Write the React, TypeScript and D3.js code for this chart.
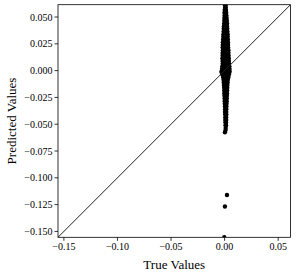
import { useEffect } from "react";
import * as d3 from "d3";

// scatter points: [true value, predicted value]
const points: [number, number][] = [
  [0.0004, 0.064], [0.0011, 0.064],
  [0.0002, 0.0615], [0.0012, 0.0615],
  [0.0005, 0.059], [0.001, 0.059],
  [0.0001, 0.0565], [0.0013, 0.0565],
  [-0.0001, 0.054], [0.0008, 0.054], [0.0015, 0.054],
  [0.0, 0.0515], [0.0017, 0.0515],
  [-0.0002, 0.049], [0.0009, 0.049], [0.0019, 0.049],
  [-0.0003, 0.0465], [0.0011, 0.0465], [0.0021, 0.0465],
  [-0.0004, 0.044], [0.0008, 0.044], [0.0023, 0.044],
  [-0.0006, 0.0415], [0.001, 0.0415], [0.0022, 0.0415],
  [-0.0008, 0.039], [0.0007, 0.039], [0.0025, 0.039],
  [-0.0009, 0.0365], [0.001, 0.0365], [0.0026, 0.0365],
  [-0.0011, 0.034], [0.0004, 0.034], [0.0018, 0.034], [0.0028, 0.034],
  [-0.0012, 0.0315], [0.0006, 0.0315], [0.002, 0.0315], [0.0029, 0.0315],
  [-0.0014, 0.029], [0.0003, 0.029], [0.0019, 0.029], [0.003, 0.029],
  [-0.0016, 0.0265], [0.0002, 0.0265], [0.0017, 0.0265], [0.0031, 0.0265],
  [-0.0017, 0.024], [0.0005, 0.024], [0.0021, 0.024], [0.0032, 0.024],
  [-0.0018, 0.0215], [0.0001, 0.0215], [0.0018, 0.0215], [0.0033, 0.0215],
  [-0.0016, 0.019], [0.0004, 0.019], [0.0022, 0.019], [0.0035, 0.019],
  [-0.0019, 0.0165], [0.0, 0.0165], [0.0019, 0.0165], [0.0036, 0.0165],
  [-0.0018, 0.014], [0.0003, 0.014], [0.0021, 0.014], [0.0037, 0.014],
  [-0.002, 0.0115], [0.0001, 0.0115], [0.002, 0.0115], [0.0038, 0.0115],
  [-0.0019, 0.009], [0.0004, 0.009], [0.0023, 0.009], [0.004, 0.009],
  [-0.0018, 0.0065], [0.0, 0.0065], [0.0019, 0.0065], [0.0041, 0.0065],
  [-0.0021, 0.004], [0.0002, 0.004], [0.0022, 0.004], [0.0044, 0.004],
  [-0.0024, 0.0015], [-0.0003, 0.0015], [0.0017, 0.0015], [0.0046, 0.0015],
  [-0.003, -0.001], [-0.001, -0.001], [0.0012, -0.001], [0.0033, -0.001], [0.0047, -0.001],
  [-0.0022, -0.0035], [0.0, -0.0035], [0.0021, -0.0035], [0.004, -0.0035],
  [-0.0014, -0.006], [0.0006, -0.006], [0.0026, -0.006], [0.0036, -0.006],
  [-0.001, -0.0085], [0.0008, -0.0085], [0.003, -0.0085],
  [-0.0008, -0.011], [0.001, -0.011], [0.0028, -0.011],
  [-0.0006, -0.0135], [0.0009, -0.0135], [0.0026, -0.0135],
  [-0.0004, -0.016], [0.0011, -0.016], [0.0025, -0.016],
  [-0.0003, -0.0185], [0.001, -0.0185], [0.0024, -0.0185],
  [-0.0002, -0.021], [0.0011, -0.021], [0.0022, -0.021],
  [-0.0001, -0.0235], [0.0009, -0.0235], [0.0021, -0.0235],
  [0.0, -0.026], [0.0011, -0.026], [0.002, -0.026],
  [0.0001, -0.0285], [0.0019, -0.0285],
  [0.0002, -0.031], [0.001, -0.031], [0.0018, -0.031],
  [0.0003, -0.0335], [0.0017, -0.0335],
  [0.0005, -0.036], [0.0016, -0.036],
  [0.0004, -0.0385], [0.0015, -0.0385],
  [0.0006, -0.041], [0.0016, -0.041],
  [0.0007, -0.0435], [0.0014, -0.0435],
  [0.0006, -0.046], [0.0015, -0.046],
  [0.0008, -0.0485], [0.0013, -0.0485],
  [0.0009, -0.051], [0.0013, -0.051],
  [0.001, -0.0535],
  [0.0009, -0.0555],
  [0.0003, -0.0575],
  // outliers
  [0.0022, -0.116],
  [0.0003, -0.1268],
  [-0.0003, -0.1555],
];

const DOMAIN: [number, number] = [-0.1555, 0.0615];
const xTicks = [-0.15, -0.1, -0.05, 0.0, 0.05];
const yTicks = [0.05, 0.025, 0.0, -0.025, -0.05, -0.075, -0.1, -0.125, -0.15];

const W = 296;
const H = 273;
const M = { left: 58, right: 5.5, top: 4.7, bottom: 35.7 };
const FONT = "'Liberation Serif', 'DejaVu Serif', serif";

const fmt = (d: number, n: number) => d3.format(`.${n}f`)(d).replace("-", "\u2212");

export default function App() {
  useEffect(() => {
    document.body.style.margin = "0";
  }, []);

  const x = d3.scaleLinear().domain(DOMAIN).range([M.left, W - M.right]);
  const y = d3.scaleLinear().domain(DOMAIN).range([H - M.bottom, M.top]);
  const [x0, x1] = x.range();
  const [y0, y1] = y.range();

  return (
    <svg width={W} height={H} style={{ display: "block", background: "#fff" }}>
      <defs>
        <clipPath id="plot-clip">
          <rect x={x0} y={y1} width={x1 - x0} height={y0 - y1} />
        </clipPath>
      </defs>

      <g clipPath="url(#plot-clip)">
        {points.map(([t, p], i) => (
          <circle key={i} cx={x(t)} cy={y(p)} r={2.2} fill="#000" />
        ))}
        <line x1={x(DOMAIN[0])} y1={y(DOMAIN[0])} x2={x(DOMAIN[1])} y2={y(DOMAIN[1])} stroke="#222" strokeWidth={1} />
      </g>

      {/* spines */}
      <rect x={x0} y={y1} width={x1 - x0} height={y0 - y1} fill="none" stroke="#000" strokeWidth={0.8} />

      {/* x axis */}
      {xTicks.map((t) => (
        <g key={t} transform={`translate(${x(t)},${y0})`}>
          <line y2={3.5} stroke="#000" strokeWidth={0.8} />
          <text y={13} textAnchor="middle" fontSize={10} fontFamily={FONT} fill="#000">
            {fmt(t, 2)}
          </text>
        </g>
      ))}
      <text x={(x0 + x1) / 2} y={269} textAnchor="middle" fontSize={13} fontFamily={FONT} fill="#000">
        True Values
      </text>

      {/* y axis */}
      {yTicks.map((t) => (
        <g key={t} transform={`translate(${x0},${y(t)})`}>
          <line x2={-3.5} stroke="#000" strokeWidth={0.8} />
          <text x={-5.5} dy="0.35em" textAnchor="end" fontSize={10} fontFamily={FONT} fill="#000">
            {fmt(t, 3)}
          </text>
        </g>
      ))}
      <text
        transform={`translate(15.5,${(y0 + y1) / 2}) rotate(-90)`}
        textAnchor="middle"
        fontSize={13}
        fontFamily={FONT}
        fill="#000"
      >
        Predicted Values
      </text>
    </svg>
  );
}
